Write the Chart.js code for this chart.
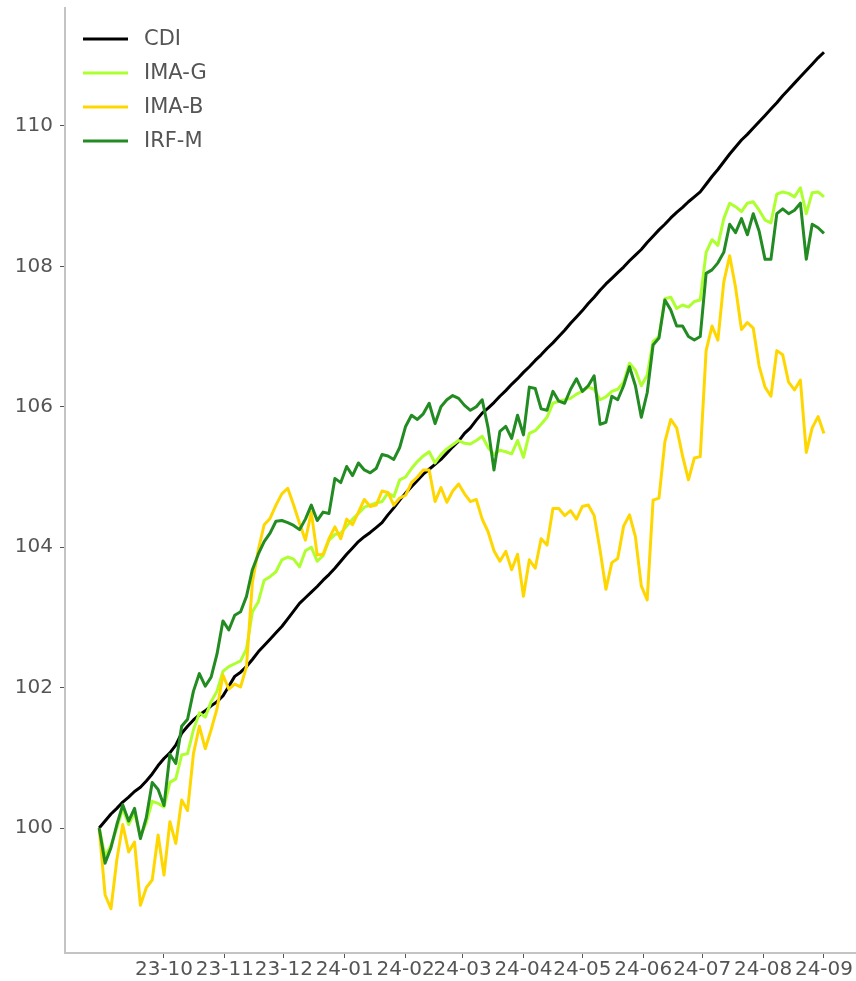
<!DOCTYPE html>
<html>
<head>
<meta charset="utf-8">
<script src="https://cdn.jsdelivr.net/npm/chart.js@4/dist/chart.umd.min.js"></script>
<style>
  html, body { margin: 0; padding: 0; background: #fff; }
  #wrap { width: 856px; height: 981px; }
</style>
</head>
<body>
<div id="wrap"><canvas id="chart" width="856" height="981"></canvas></div>
<script>
// x values are days counted from 2023-10-01
const days = [
  -33, -30, -27, -24, -21, -18, -15, -12, -9, -6,
  -3, 0, 3, 6, 9, 12, 15, 18, 21, 24,
  27, 30, 33, 36, 39, 42, 45, 48, 51, 54,
  57, 60, 63, 66, 69, 72, 75, 78, 81, 84,
  87, 90, 93, 96, 99, 102, 105, 108, 111, 114,
  117, 120, 123, 126, 129, 132, 135, 138, 141, 144,
  147, 150, 153, 156, 159, 162, 165, 168, 171, 174,
  177, 180, 183, 186, 189, 192, 195, 198, 201, 204,
  207, 210, 213, 216, 219, 222, 225, 228, 231, 234,
  237, 240, 243, 246, 249, 252, 255, 258, 261, 264,
  267, 270, 273, 276, 279, 282, 285, 288, 291, 294,
  297, 300, 303, 306, 309, 312, 315, 318, 321, 324,
  327, 330, 333, 336
];

const monthDays = [0, 31, 61, 92, 123, 152, 183, 213, 244, 274, 305, 336];
const monthLabels = ['23-10', '23-11', '23-12', '24-01', '24-02', '24-03',
                     '24-04', '24-05', '24-06', '24-07', '24-08', '24-09'];
const yTicks = [100, 102, 104, 106, 108, 110];

const cdi = [
  100.00, 100.10, 100.20, 100.28, 100.37, 100.44, 100.52, 100.58, 100.67, 100.77,
  100.89, 100.99, 101.07, 101.18, 101.35, 101.45, 101.54, 101.61, 101.67, 101.74,
  101.80, 101.88, 102.02, 102.16, 102.22, 102.30, 102.40, 102.51, 102.60, 102.69,
  102.78, 102.87, 102.98, 103.09, 103.20, 103.28, 103.36, 103.44, 103.53, 103.61,
  103.70, 103.80, 103.90, 103.99, 104.08, 104.15, 104.21, 104.28, 104.35, 104.46,
  104.56, 104.67, 104.77, 104.86, 104.95, 105.04, 105.11, 105.18, 105.25, 105.34,
  105.43, 105.51, 105.62, 105.70, 105.81, 105.91, 105.98, 106.06, 106.15, 106.23,
  106.32, 106.40, 106.49, 106.57, 106.66, 106.74, 106.83, 106.91, 107.00, 107.09,
  107.19, 107.28, 107.37, 107.47, 107.56, 107.66, 107.75, 107.83, 107.91, 107.99,
  108.08, 108.16, 108.24, 108.34, 108.43, 108.52, 108.60, 108.69, 108.77, 108.84,
  108.92, 108.99, 109.06, 109.17, 109.28, 109.38, 109.49, 109.60, 109.70, 109.80,
  109.88, 109.97, 110.06, 110.15, 110.24, 110.33, 110.43, 110.52, 110.61, 110.70,
  110.79, 110.88, 110.97, 111.05
];

const imaG = [
  100.00, 99.60, 99.75, 100.00, 100.28, 100.05, 100.22, 99.88, 100.08, 100.38,
  100.35, 100.30, 100.65, 100.70, 101.04, 101.06, 101.40, 101.64, 101.58, 101.80,
  101.95, 102.23, 102.30, 102.34, 102.38, 102.55, 103.08, 103.22, 103.53, 103.58,
  103.65, 103.82, 103.86, 103.83, 103.72, 103.95, 104.00, 103.80, 103.88, 104.10,
  104.18, 104.20, 104.30, 104.40, 104.48, 104.57, 104.60, 104.63, 104.65, 104.77,
  104.72, 104.96, 105.00, 105.12, 105.22, 105.30, 105.36, 105.20, 105.32, 105.40,
  105.46, 105.52, 105.48, 105.47, 105.52, 105.58, 105.42, 105.32, 105.38, 105.36,
  105.33, 105.52, 105.28, 105.62, 105.66, 105.75, 105.85, 106.05, 106.08, 106.10,
  106.12, 106.18, 106.22, 106.28, 106.25, 106.10, 106.14, 106.22, 106.25, 106.35,
  106.62, 106.52, 106.30, 106.45, 106.93, 107.00, 107.54, 107.56, 107.40, 107.45,
  107.42, 107.50, 107.52, 108.20, 108.38, 108.30, 108.68, 108.90, 108.85, 108.78,
  108.90, 108.92, 108.80, 108.66, 108.62, 109.03, 109.06, 109.04, 108.99, 109.12,
  108.75, 109.05, 109.06, 108.99
];

const imaB = [
  100.00, 99.05, 98.85, 99.55, 100.05, 99.66, 99.80, 98.90, 99.15, 99.26,
  99.90, 99.33, 100.09, 99.78, 100.40, 100.25, 101.06, 101.45, 101.13, 101.40,
  101.70, 102.18, 101.98, 102.05, 102.01, 102.30, 103.50, 103.96, 104.32, 104.41,
  104.60, 104.76, 104.84, 104.60, 104.34, 104.10, 104.50, 103.89, 103.90, 104.12,
  104.29, 104.12, 104.40, 104.32, 104.50, 104.68, 104.58, 104.60, 104.80, 104.78,
  104.60, 104.70, 104.74, 104.92, 105.00, 105.10, 105.10, 104.65, 104.85, 104.64,
  104.80, 104.90, 104.76, 104.65, 104.68, 104.40, 104.22, 103.95, 103.80, 103.94,
  103.68, 103.90, 103.30, 103.82, 103.70, 104.12, 104.03, 104.55, 104.55, 104.45,
  104.52, 104.40, 104.58, 104.60, 104.45, 103.96, 103.40, 103.78, 103.84, 104.30,
  104.46, 104.15, 103.45, 103.25, 104.67, 104.70, 105.50, 105.82, 105.70, 105.30,
  104.96, 105.27, 105.29, 106.80, 107.15, 106.95, 107.78, 108.15, 107.70, 107.10,
  107.20, 107.12, 106.58, 106.28, 106.15, 106.80, 106.74, 106.35, 106.24, 106.38,
  105.35, 105.70, 105.86, 105.62
];

const irfM = [
  100.00, 99.50, 99.72, 100.05, 100.33, 100.10, 100.28, 99.85, 100.15, 100.65,
  100.55, 100.32, 101.05, 100.92, 101.45, 101.55, 101.95, 102.20, 102.02, 102.15,
  102.48, 102.95, 102.82, 103.03, 103.08, 103.30, 103.68, 103.90, 104.08, 104.20,
  104.37, 104.38, 104.35, 104.31, 104.25, 104.40, 104.60, 104.38, 104.50, 104.48,
  104.98, 104.92, 105.15, 105.02, 105.20, 105.10, 105.06, 105.12, 105.32, 105.30,
  105.25, 105.42, 105.72, 105.88, 105.82, 105.90, 106.05, 105.76, 106.00, 106.10,
  106.16, 106.12, 106.02, 105.95, 106.00, 106.10, 105.70, 105.10, 105.65, 105.72,
  105.55, 105.88, 105.60, 106.28, 106.26, 105.97, 105.95, 106.22, 106.08, 106.05,
  106.25, 106.40, 106.22, 106.30, 106.44, 105.75, 105.78, 106.15, 106.10, 106.30,
  106.57, 106.30, 105.85, 106.20, 106.88, 106.98, 107.52, 107.38, 107.15, 107.15,
  107.00, 106.95, 107.00, 107.90, 107.95, 108.05, 108.20, 108.60, 108.48, 108.68,
  108.45, 108.75, 108.50, 108.10, 108.10, 108.75, 108.82, 108.75, 108.80, 108.90,
  108.10, 108.60, 108.55, 108.47
];

function toPoints(values) {
  return values.map((v, i) => ({ x: days[i], y: v }));
}

function series(label, values, color, order) {
  return {
    label: label,
    data: toPoints(values),
    borderColor: color,
    backgroundColor: color,
    borderWidth: 3,
    pointRadius: 0,
    tension: 0,
    borderJoinStyle: 'round',
    order: order
  };
}

// legend drawn inside the plot, top left, like the original
const insideLegend = {
  id: 'insideLegend',
  afterDraw(chart) {
    const ctx = chart.ctx;
    const left = chart.chartArea.left;
    const top = chart.chartArea.top;
    ctx.save();
    ctx.font = '21px "DejaVu Sans", sans-serif';
    ctx.textBaseline = 'middle';
    chart.data.datasets.forEach((ds, i) => {
      const y = top + 31 + i * 34;
      ctx.strokeStyle = ds.borderColor;
      ctx.lineWidth = 3;
      ctx.beginPath();
      ctx.moveTo(left + 18, y);
      ctx.lineTo(left + 63, y);
      ctx.stroke();
      ctx.fillStyle = '#555';
      ctx.fillText(ds.label, left + 79, y + 1);
    });
    ctx.restore();
  }
};

Chart.defaults.font.family = '"DejaVu Sans", sans-serif';

new Chart(document.getElementById('chart'), {
  type: 'line',
  data: {
    datasets: [
      series('CDI', cdi, '#000000', 4),
      series('IMA-G', imaG, '#adff2f', 3),
      series('IMA-B', imaB, '#ffd700', 2),
      series('IRF-M', irfM, '#228b22', 1)
    ]
  },
  options: {
    responsive: false,
    animation: false,
    devicePixelRatio: 1,
    layout: { padding: { top: 8, right: 1, left: 0, bottom: 0 } },
    plugins: {
      legend: { display: false },
      tooltip: { enabled: false }
    },
    scales: {
      x: {
        type: 'linear',
        min: -50.4,
        max: 351.8,
        afterBuildTicks: s => { s.ticks = monthDays.map(v => ({ value: v })); },
        afterFit: s => { s.height = 28; s.paddingLeft = 0; s.paddingRight = 0; },
        ticks: {
          autoSkip: false,
          maxRotation: 0,
          minRotation: 0,
          padding: 0,
          color: '#555',
          font: { size: 20 },
          callback: (v, i) => monthLabels[i]
        },
        grid: { drawOnChartArea: false, drawTicks: true, tickLength: 5, tickColor: '#555' },
        border: { color: '#c4c4c4', width: 2 }
      },
      y: {
        type: 'linear',
        min: 98.22,
        max: 111.68,
        afterBuildTicks: s => { s.ticks = yTicks.map(v => ({ value: v })); },
        afterFit: s => { s.width = 65; s.paddingTop = 0; s.paddingBottom = 0; },
        ticks: {
          padding: 7,
          color: '#555',
          font: { size: 20 },
          callback: v => String(v)
        },
        grid: { drawOnChartArea: false, drawTicks: true, tickLength: 5, tickColor: '#555' },
        border: { color: '#c4c4c4', width: 2 }
      }
    }
  },
  plugins: [insideLegend]
});
</script>
</body>
</html>
